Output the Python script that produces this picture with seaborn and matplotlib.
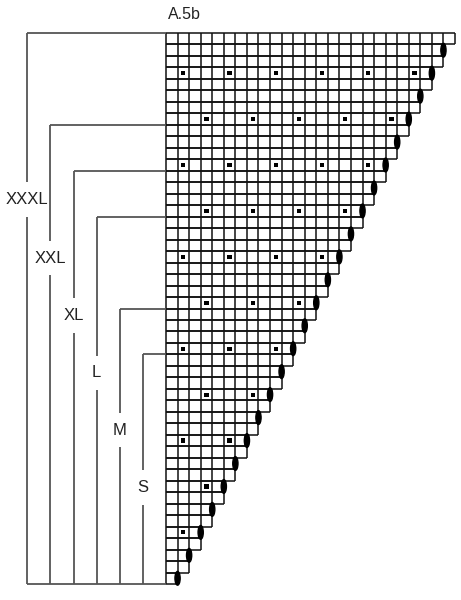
import matplotlib
matplotlib.use("Agg")
import matplotlib.pyplot as plt
import seaborn as sns
import pandas as pd
from matplotlib.patches import Ellipse

sns.set_style("white")
plt.rcParams['font.family'] = ['Liberation Sans', 'DejaVu Sans']

title = "A.5b"
row_widths = [25, 24, 24, 23, 23, 22, 22, 21, 21, 20, 20, 19, 19, 18, 18, 17, 17,
              16, 16, 15, 15, 14, 14, 13, 13, 12, 12, 11, 11, 10, 10, 9, 9, 8, 8,
              7, 7, 6, 6, 5, 5, 4, 4, 3, 3, 2, 2, 1]
ellipse_rows = [1, 3, 5, 7, 9, 11, 13, 15, 17, 19, 21, 23, 25, 27, 29, 31, 33,
                35, 37, 39, 41, 43, 45, 47]
dot_rows = {3: [1, 5, 9, 13, 17, 21], 7: [3, 7, 11, 15, 19], 11: [1, 5, 9, 13, 17],
            15: [3, 7, 11, 15], 19: [1, 5, 9, 13], 23: [3, 7, 11], 27: [1, 5, 9],
            31: [3, 7], 35: [1, 5], 39: [3], 43: [1]}
sizes = ["XXXL", "XXL", "XL", "L", "M", "S"]
size_x = [-12, -10, -8, -6, -4, -2]
size_top = [0, 8, 12, 16, 24, 28]
label_row = [14.5, 19.6, 24.6, 29.6, 34.6, 39.6]
n_rows = len(row_widths)

fig = plt.figure(figsize=(4.61, 6), dpi=100)
ax = fig.add_axes([0, 0, 1, 1])

gc = "#111111"
lw = 1.1
for r, w in enumerate(row_widths):
    ax.hlines([r, r + 1], 0, w, color=gc, lw=lw)
    ax.vlines(range(w + 1), r, r + 1, color=gc, lw=lw)

for r in ellipse_rows:
    ax.add_patch(Ellipse((row_widths[r], r + 0.5), 0.45, 1.2, color="black", zorder=5))

dots = pd.DataFrame([(c + 0.5, r + 0.5) for r, cs in dot_rows.items() for c in cs],
                    columns=["x", "y"])
sns.scatterplot(data=dots, x="x", y="y", marker="s", s=9, color="black",
                edgecolor="none", ax=ax, zorder=6)

bc = "#555555"
blw = 1.3
for name, x, top, ly in zip(sizes, size_x, size_top, label_row):
    ax.hlines(top, x, 0, color=bc, lw=blw)
    ax.vlines(x, top, ly - 1.5, color=bc, lw=blw)
    ax.vlines(x, ly + 1.5, n_rows, color=bc, lw=blw)
    ax.text(x, ly, name, ha="center", va="center", fontsize=12, color="#222222")
ax.hlines(n_rows, size_x[0], 0, color=bc, lw=blw)

ax.text(1.6, -1.6, title, ha="center", va="center", fontsize=11.5, color="#222222")

ax.set_xlim(-166 / 11.56, (461 - 166) / 11.56)
ax.set_ylim((600 - 33) / 11.48, -33 / 11.48)
ax.axis("off")
fig.savefig("out.png", dpi=100)
